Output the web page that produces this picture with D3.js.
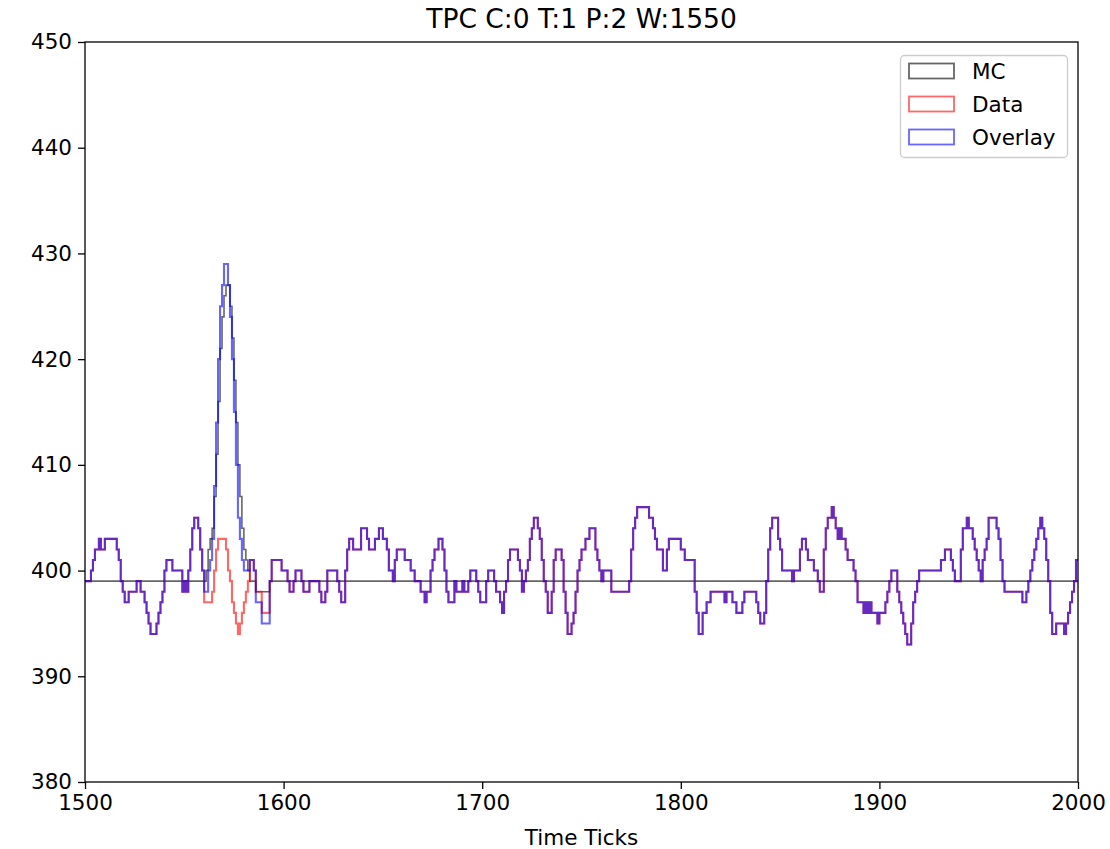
<!DOCTYPE html>
<html><head><meta charset="utf-8">
<script src="https://cdn.jsdelivr.net/npm/d3@7"></script>
<style>body{margin:0;background:#fff} svg{display:block} text{font-family:"DejaVu Sans",sans-serif;fill:#000}</style>
</head><body><svg id="c" width="1110" height="849"></svg>
<script>
const startTick = 1500;
const data = [
399,399,399,400,401,402,402,403,402,402,
403,403,403,403,403,403,402,401,399,398,
397,397,398,398,398,398,399,399,398,398,
397,396,395,394,394,394,395,396,397,398,
400,401,401,401,400,400,400,400,400,398,
399,398,400,402,404,405,405,404,402,400,
397,397,397,397,398,400,402,403,403,403,
403,402,400,399,397,396,395,394,395,396,
397,398,399,401,401,400,398,398,398,396,
396,396,396,399,401,401,401,401,401,400,
400,400,399,398,398,399,400,400,400,399,
398,398,398,399,399,399,399,399,398,397,
397,398,400,400,400,400,400,399,398,397,
397,400,402,403,403,402,402,402,402,404,
404,404,403,402,402,402,403,403,404,404,
403,403,402,400,400,399,401,402,402,402,
402,401,401,401,400,400,399,399,399,398,
398,397,398,398,400,401,402,402,403,403,
402,400,398,397,397,397,399,398,398,398,
399,398,398,399,400,400,400,399,398,397,
397,397,399,400,400,400,399,398,398,397,
396,398,399,401,402,402,402,402,401,400,
398,399,400,401,403,404,405,405,404,403,
401,399,398,396,396,398,401,402,402,402,
401,398,396,394,394,395,396,398,400,401,
402,402,403,403,404,404,404,402,401,400,
399,400,400,400,400,398,398,398,398,398,
398,398,398,398,399,402,404,405,406,406,
406,406,406,406,405,405,404,403,402,402,
402,400,400,402,403,403,403,403,403,403,
402,402,401,401,401,401,401,398,396,394,
394,396,396,397,397,398,398,398,398,398,
398,398,397,398,398,398,397,397,396,396,
396,397,398,398,398,398,398,398,397,396,
395,395,396,399,402,404,405,405,405,403,
402,400,400,400,400,400,399,400,400,400,
402,403,403,402,401,401,401,400,400,399,
398,398,402,404,405,405,406,405,404,403,
404,403,403,402,401,401,401,400,399,397,
397,397,396,397,396,397,396,396,396,395,
396,396,396,397,398,399,400,400,400,398,
397,396,395,394,393,393,395,397,398,399,
400,400,400,400,400,400,400,400,400,400,
400,401,401,402,402,402,401,400,399,399,
399,402,404,404,405,404,404,403,402,401,
400,399,401,402,403,405,405,405,405,404,
403,401,399,398,398,398,398,398,398,398,
398,398,397,397,398,399,400,401,402,403,
404,405,404,403,401,399,396,394,394,395,
395,395,395,394,395,396,397,398,399,401
];
const mc = [
399,399,399,399,399,399,399,399,399,399,
399,399,399,399,399,399,399,399,399,399,
399,399,399,399,399,399,399,399,399,399,
399,399,399,399,399,399,399,399,399,399,
399,399,399,399,399,399,399,399,399,399,
399,399,399,399,399,399,399,399,399,399,
399,400,402,403,404,407,411,416,421,424,
426,427,427,425,422,418,414,410,407,404,
402,401,400,399,399,399,398,398,398,398,
398,398,398,399,399,399,399,399,399,399,
399,399,399,399,399,399,399,399,399,399,
399,399,399,399,399,399,399,399,399,399,
399,399,399,399,399,399,399,399,399,399,
399,399,399,399,399,399,399,399,399,399,
399,399,399,399,399,399,399,399,399,399,
399,399,399,399,399,399,399,399,399,399,
399,399,399,399,399,399,399,399,399,399,
399,399,399,399,399,399,399,399,399,399,
399,399,399,399,399,399,399,399,399,399,
399,399,399,399,399,399,399,399,399,399,
399,399,399,399,399,399,399,399,399,399,
399,399,399,399,399,399,399,399,399,399,
399,399,399,399,399,399,399,399,399,399,
399,399,399,399,399,399,399,399,399,399,
399,399,399,399,399,399,399,399,399,399,
399,399,399,399,399,399,399,399,399,399,
399,399,399,399,399,399,399,399,399,399,
399,399,399,399,399,399,399,399,399,399,
399,399,399,399,399,399,399,399,399,399,
399,399,399,399,399,399,399,399,399,399,
399,399,399,399,399,399,399,399,399,399,
399,399,399,399,399,399,399,399,399,399,
399,399,399,399,399,399,399,399,399,399,
399,399,399,399,399,399,399,399,399,399,
399,399,399,399,399,399,399,399,399,399,
399,399,399,399,399,399,399,399,399,399,
399,399,399,399,399,399,399,399,399,399,
399,399,399,399,399,399,399,399,399,399,
399,399,399,399,399,399,399,399,399,399,
399,399,399,399,399,399,399,399,399,399,
399,399,399,399,399,399,399,399,399,399,
399,399,399,399,399,399,399,399,399,399,
399,399,399,399,399,399,399,399,399,399,
399,399,399,399,399,399,399,399,399,399,
399,399,399,399,399,399,399,399,399,399,
399,399,399,399,399,399,399,399,399,399,
399,399,399,399,399,399,399,399,399,399,
399,399,399,399,399,399,399,399,399,399,
399,399,399,399,399,399,399,399,399,399,
399,399,399,399,399,399,399,399,399,399
];
const overlay = [
399,399,399,400,401,402,402,403,402,402,
403,403,403,403,403,403,402,401,399,398,
397,397,398,398,398,398,399,399,398,398,
397,396,395,394,394,394,395,396,397,398,
400,401,401,401,400,400,400,400,400,398,
399,398,400,402,404,405,405,404,402,400,
398,398,400,401,403,408,414,420,425,427,
429,429,427,424,420,415,410,405,403,401,
400,400,400,401,401,400,397,397,397,395,
395,395,395,399,401,401,401,401,401,400,
400,400,399,398,398,399,400,400,400,399,
398,398,398,399,399,399,399,399,398,397,
397,398,400,400,400,400,400,399,398,397,
397,400,402,403,403,402,402,402,402,404,
404,404,403,402,402,402,403,403,404,404,
403,403,402,400,400,399,401,402,402,402,
402,401,401,401,400,400,399,399,399,398,
398,397,398,398,400,401,402,402,403,403,
402,400,398,397,397,397,399,398,398,398,
399,398,398,399,400,400,400,399,398,397,
397,397,399,400,400,400,399,398,398,397,
396,398,399,401,402,402,402,402,401,400,
398,399,400,401,403,404,405,405,404,403,
401,399,398,396,396,398,401,402,402,402,
401,398,396,394,394,395,396,398,400,401,
402,402,403,403,404,404,404,402,401,400,
399,400,400,400,400,398,398,398,398,398,
398,398,398,398,399,402,404,405,406,406,
406,406,406,406,405,405,404,403,402,402,
402,400,400,402,403,403,403,403,403,403,
402,402,401,401,401,401,401,398,396,394,
394,396,396,397,397,398,398,398,398,398,
398,398,397,398,398,398,397,397,396,396,
396,397,398,398,398,398,398,398,397,396,
395,395,396,399,402,404,405,405,405,403,
402,400,400,400,400,400,399,400,400,400,
402,403,403,402,401,401,401,400,400,399,
398,398,402,404,405,405,406,405,404,403,
404,403,403,402,401,401,401,400,399,397,
397,397,396,397,396,397,396,396,396,395,
396,396,396,397,398,399,400,400,400,398,
397,396,395,394,393,393,395,397,398,399,
400,400,400,400,400,400,400,400,400,400,
400,401,401,402,402,402,401,400,399,399,
399,402,404,404,405,404,404,403,402,401,
400,399,401,402,403,405,405,405,405,404,
403,401,399,398,398,398,398,398,398,398,
398,398,397,397,398,399,400,401,402,403,
404,405,404,403,401,399,396,394,394,395,
395,395,395,394,395,396,397,398,399,401
];
const xTicks = [1500, 1600, 1700, 1800, 1900, 2000];
const yTicks = [380, 390, 400, 410, 420, 430, 440, 450];
const seriesNames = ["MC", "Data", "Overlay"];
const seriesColors = ["#000000", "#ff0000", "#0000ff"];
const titleText = "TPC C:0 T:1 P:2 W:1550";
const xLabelText = "Time Ticks";

const svg = d3.select("#c");
const m = {l: 85, r: 1078, t: 42, b: 782};
const x = d3.scaleLinear().domain([1500, 2000]).range([m.l, m.r]);
const y = d3.scaleLinear().domain([380, 450]).range([m.b, m.t]);
const FS = 21.5;

svg.append("defs").append("clipPath").attr("id", "clip")
  .append("rect").attr("x", m.l).attr("y", m.t).attr("width", m.r - m.l).attr("height", m.b - m.t);

function stepPath(vals) {
  const p = d3.path();
  vals.forEach((v, i) => {
    const x0 = x(startTick + i), x1 = x(startTick + i + 1), yy = y(v);
    if (i === 0) p.moveTo(x0, yy); else p.lineTo(x0, yy);
    p.lineTo(x1, yy);
  });
  return p.toString();
}

const series = [mc, data, overlay];
const g = svg.append("g").attr("clip-path", "url(#clip)");
series.forEach((s, k) => {
  g.append("path").attr("d", stepPath(s)).attr("fill", "none")
    .attr("stroke", seriesColors[k]).attr("stroke-opacity", 0.6)
    .attr("stroke-width", k === 0 ? 1.6 : 2.1).attr("stroke-linejoin", "miter");
});

// axes
const xAxis = svg.append("g").attr("transform", `translate(0,${m.b})`)
  .call(d3.axisBottom(x).tickValues(xTicks).tickFormat(d3.format("d")).tickSize(7).tickPadding(6));
const yAxis = svg.append("g").attr("transform", `translate(${m.l},0)`)
  .call(d3.axisLeft(y).tickValues(yTicks).tickFormat(d3.format("d")).tickSize(7).tickPadding(6));
[xAxis, yAxis].forEach(a => {
  a.select(".domain").remove();
  a.selectAll(".tick line").attr("stroke", "#000").attr("stroke-width", 1.3);
  a.selectAll(".tick text").attr("font-size", FS).attr("font-family", "DejaVu Sans").attr("fill", "#000");
});
svg.append("rect").attr("x", m.l).attr("y", m.t).attr("width", m.r - m.l).attr("height", m.b - m.t)
  .attr("fill", "none").attr("stroke", "#000").attr("stroke-width", 1.3);

svg.append("text").attr("x", (m.l + m.r) / 2).attr("y", 28).attr("text-anchor", "middle")
  .attr("font-size", 26.5).text(titleText);
svg.append("text").attr("x", (m.l + m.r) / 2).attr("y", 845).attr("text-anchor", "middle")
  .attr("font-size", FS).text(xLabelText);

// legend
const lg = svg.append("g");
lg.append("rect").attr("x", 900.5).attr("y", 55.5).attr("width", 167).attr("height", 102).attr("rx", 4)
  .attr("fill", "#fff").attr("fill-opacity", 0.8).attr("stroke", "#cccccc").attr("stroke-width", 1.3);
seriesNames.forEach((n, k) => {
  const cy = 71 + k * 33;
  lg.append("rect").attr("x", 909).attr("y", cy - 7.5).attr("width", 45).attr("height", 15)
    .attr("fill", "none").attr("stroke", seriesColors[k]).attr("stroke-opacity", 0.6).attr("stroke-width", 1.8);
  lg.append("text").attr("x", 972).attr("y", cy).attr("dy", "0.35em").attr("font-size", FS).text(n);
});
</script></body></html>
